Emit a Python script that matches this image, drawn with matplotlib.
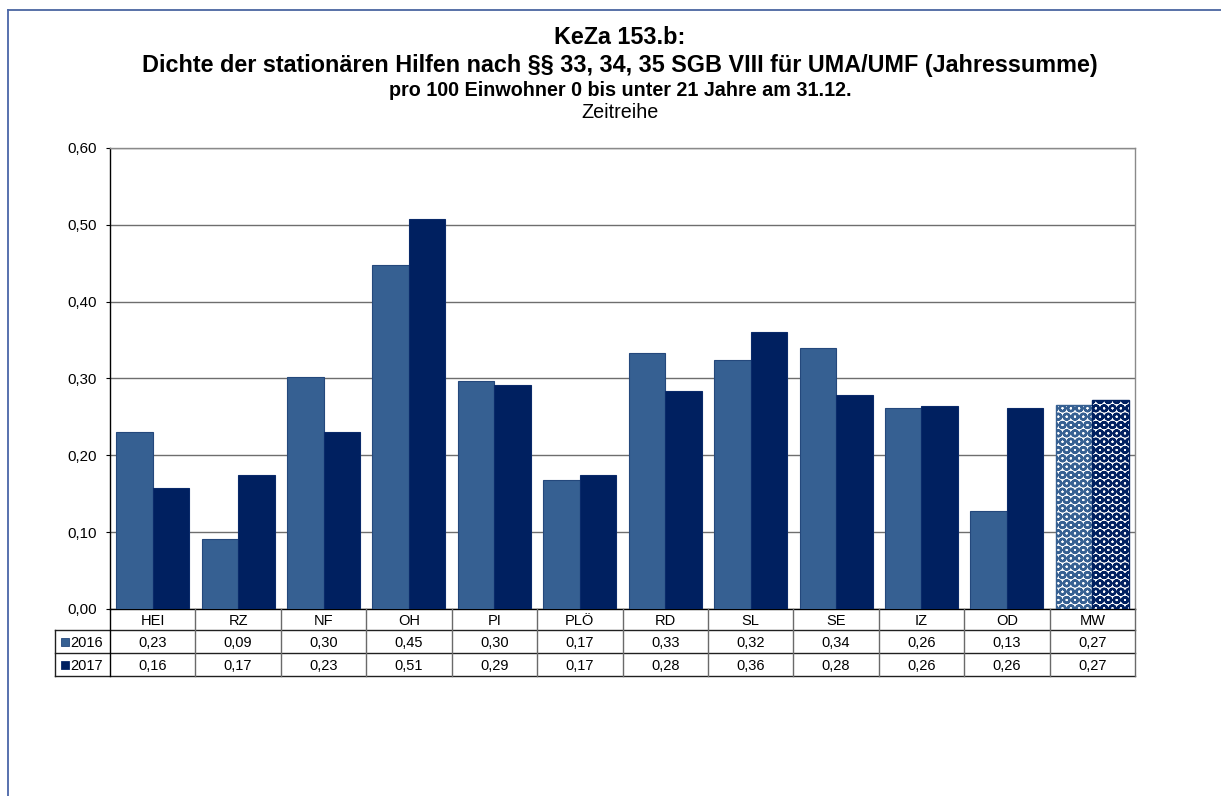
import matplotlib
matplotlib.use("Agg")
import matplotlib.pyplot as plt
from matplotlib.lines import Line2D
from matplotlib.patches import Rectangle
from matplotlib.transforms import blended_transform_factory
import numpy as np

# --- data -------------------------------------------------------------
categories = ["HEI", "RZ", "NF", "OH", "PI", "PLÖ", "RD", "SL", "SE", "IZ", "OD", "MW"]
series_names = ["2016", "2017"]
values_2016 = [0.231, 0.0905, 0.302, 0.448, 0.297, 0.168, 0.333, 0.324, 0.340, 0.261, 0.127, 0.266]
values_2017 = [0.158, 0.174, 0.231, 0.507, 0.292, 0.174, 0.284, 0.361, 0.278, 0.264, 0.261, 0.272]
y_ticks = [0.0, 0.1, 0.2, 0.3, 0.4, 0.5, 0.6]

title_lines = [
    "KeZa 153.b:",
    "Dichte der stationären Hilfen nach §§ 33, 34, 35 SGB VIII für UMA/UMF (Jahressumme)",
    "pro 100 Einwohner 0 bis unter 21 Jahre am 31.12.",
    "Zeitreihe",
]

# --- style ------------------------------------------------------------
plt.rcParams['font.family'] = ['Liberation Sans', 'DejaVu Sans']
plt.rcParams['hatch.linewidth'] = 1.7

col_2016 = "#366092"
edge_2016 = "#24487c"
col_2017 = "#002060"
edge_2017 = "#0a2a6a"
grid_col = "#6e6e6e"

W, H = 1221, 796
fig = plt.figure(figsize=(W / 100, H / 100), dpi=100)


def fx(px):
    return px / W


def fy(py):
    return 1 - py / H


# plot area
left_px, right_px, top_px, bottom_px = 110, 1135, 148, 609
ax = fig.add_axes([fx(left_px), fy(bottom_px), (right_px - left_px) / W, (bottom_px - top_px) / H])

n = len(categories)
x = np.arange(n)
bw = 0.4275
bars16 = ax.bar(x - bw / 2, values_2016, width=bw, color=col_2016, edgecolor=edge_2016,
                linewidth=0.8, zorder=3)
bars17 = ax.bar(x + bw / 2, values_2017, width=bw, color=col_2017, edgecolor=edge_2017,
                linewidth=0.8, zorder=3)

# average column drawn with a sphere-dot fill
for b, c in ((bars16[-1], col_2016), (bars17[-1], col_2017)):
    b.set_facecolor("white")
    b.set_edgecolor(c)
    b.set_hatch("OO")
    b.set_linewidth(1.0)
    if hasattr(b, "set_hatch_linewidth"):
        b.set_hatch_linewidth(1.7)

ax.set_xlim(-0.5, n - 0.5)
ax.set_ylim(0, 0.6)
ax.set_yticks(y_ticks)
ax.set_yticklabels([f"{v:.2f}".replace(".", ",") for v in y_ticks], fontsize=10.8)
ax.tick_params(axis="y", direction="out", length=3, width=0.8, pad=6.5, colors="black")
ax.set_xticks([])
ax.yaxis.grid(True, color=grid_col, linewidth=1.0, zorder=0)
ax.set_axisbelow(True)
for side in ("top", "right"):
    ax.spines[side].set_color("#8a8a8a")
    ax.spines[side].set_linewidth(1.0)
for side in ("left", "bottom"):
    ax.spines[side].set_color("black")
    ax.spines[side].set_linewidth(1.0)

# --- titles -------------------------------------------------------------
cx = fx(620)
fig.text(cx, fy(44.3), title_lines[0], ha="center", va="baseline", fontsize=16.8, fontweight="bold")
fig.text(cx, fy(72.3), title_lines[1], ha="center", va="baseline", fontsize=16.8, fontweight="bold")
fig.text(cx, fy(96), title_lines[2], ha="center", va="baseline", fontsize=14.2, fontweight="bold")
fig.text(cx, fy(118.3), title_lines[3], ha="center", va="baseline", fontsize=14.2)

# --- data table under the axis -------------------------------------------
trans = blended_transform_factory(ax.transData, fig.transFigure)
row_lines = [609, 630, 653, 676]
legend_left = 55
ax_right_fig = ax.get_position().x1

# horizontal rules
for yy in row_lines[1:]:
    fig.add_artist(Line2D([fx(legend_left), ax_right_fig], [fy(yy), fy(yy)],
                          color="#202020", linewidth=1.0))
# category separators
for i in range(n + 1):
    xb = i - 0.5
    c = "black" if i == 0 else "#6a6a6a"
    fig.add_artist(Line2D([xb, xb], [fy(row_lines[0]), fy(row_lines[-1])],
                          transform=trans, color=c, linewidth=1.0))
# legend column left edge
fig.add_artist(Line2D([fx(legend_left), fx(legend_left)], [fy(row_lines[1]), fy(row_lines[-1])],
                      color="#202020", linewidth=1.0))

# header row: category names
for i, cat in enumerate(categories):
    fig.text(i, fy(625), cat, transform=trans, ha="center", va="baseline", fontsize=10.5)

# value rows
baselines = [647, 670]
for vals, base in zip((values_2016, values_2017), baselines):
    for i, v in enumerate(vals):
        fig.text(i, fy(base), f"{v:.2f}".replace(".", ","), transform=trans,
                 ha="center", va="baseline", fontsize=10.5)

# legend keys in the first column
for name, col, edge, base in zip(series_names, (col_2016, col_2017), (edge_2016, edge_2017), baselines):
    key_bottom = base - 1
    fig.add_artist(Rectangle((fx(61), fy(key_bottom)), 8 / W, 8 / H, transform=fig.transFigure,
                             facecolor=col, edgecolor=edge, linewidth=0.6))
    fig.text(fx(70), fy(base), name, ha="left", va="baseline", fontsize=10.5)

# --- chart frame -----------------------------------------------------------
fig.add_artist(Line2D([fx(8), 1.0], [fy(10), fy(10)], color="#2a4a90", linewidth=1.1))
fig.add_artist(Line2D([fx(8), fx(8)], [fy(10), 0.0], color="#4a66a8", linewidth=1.3))

fig.savefig("out.png", dpi=100)
